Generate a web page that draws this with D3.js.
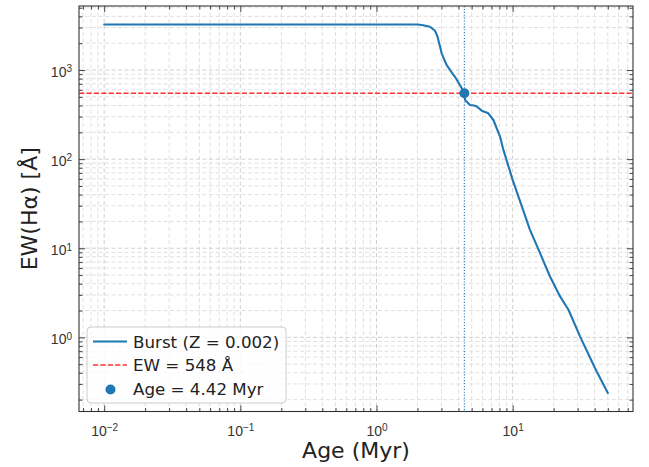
<!DOCTYPE html>
<html>
<head>
<meta charset="utf-8">
<script src="https://cdn.jsdelivr.net/npm/d3@7"></script>
<style>
  body { margin: 0; background: #fff; }
  svg { display: block; font-family: "DejaVu Sans", sans-serif; }
</style>
</head>
<body>
<svg id="chart" width="649" height="467"></svg>
<script>
// burst model track (Myr, Angstrom)
const ageMyr = [0.01, 2.0, 2.2, 2.47, 2.69, 2.8, 2.89, 3.01, 3.19, 3.3, 3.47, 3.77, 4.1, 4.42,
  4.47, 4.86, 5.2, 5.45, 5.93, 6.63, 7.22, 8.08, 8.55, 10, 11.7, 13.4, 15.9, 18.8, 22.3, 25.7, 31.3, 40.3, 50]
const ewBurst = [3250, 3250, 3180, 3060, 2760, 2400, 1990, 1540, 1240, 1120, 1000, 840, 680, 548,
  461, 405, 400, 390, 350, 327, 275, 179, 127, 58.5, 29.3, 16.1, 8.8, 4.82, 2.88, 2.04, 1.02, 0.45, 0.237]

const ewObserved = 548 // red dashed line
const ageFound = 4.42 // blue dotted line + dot

const xTickVals = [0.01, 0.1, 1, 10]
const xTickExp = ["−2", "−1", "0", "1"]
const yTickVals = [1, 10, 100, 1000]
const yTickExp = ["0", "1", "2", "3"]
const legendLabels = ["Burst (Z = 0.002)", "EW = 548 Å", "Age = 4.42 Myr"]

const blue = "#1f77b4"
const plot = { left: 79, right: 633, top: 6, bottom: 411.5 }
const svg = d3.select("#chart")

// log domain with matplotlib style 5% margins (in log space)
function logDomain(vals) {
  const lo = Math.log10(d3.min(vals)), hi = Math.log10(d3.max(vals))
  const m = (hi - lo) * 0.05
  return [Math.pow(10, lo - m), Math.pow(10, hi + m)]
}

const x = d3.scaleLog().domain(logDomain(ageMyr)).range([plot.left, plot.right])
const y = d3.scaleLog().domain(logDomain(ewBurst)).range([plot.bottom, plot.top])

// minor tick values 2..9 x 10^n inside the domain
function minorVals(scale) {
  const [a, b] = scale.domain()
  const out = []
  for (let e = Math.floor(Math.log10(a)); e <= Math.ceil(Math.log10(b)); e++) {
    for (let k = 2; k < 10; k++) {
      const v = k * Math.pow(10, e)
      if (v >= a && v <= b) out.push(v)
    }
  }
  return out
}
const xMinor = minorVals(x)
const yMinor = minorVals(y)
const xMajor = xTickVals.filter(v => v >= x.domain()[0] && v <= x.domain()[1])
const yMajor = yTickVals.filter(v => v >= y.domain()[0] && v <= y.domain()[1])

svg.append("defs").append("clipPath").attr("id", "clip")
  .append("rect")
  .attr("x", plot.left).attr("y", plot.top)
  .attr("width", plot.right - plot.left).attr("height", plot.bottom - plot.top)

// grid (minor first, then major)
const grid = svg.append("g")
function vGrid(vals, color) {
  grid.selectAll(null).data(vals).enter().append("line")
    .attr("x1", d => x(d)).attr("x2", d => x(d))
    .attr("y1", plot.top).attr("y2", plot.bottom)
    .style("stroke", color).style("stroke-width", 0.9).style("stroke-dasharray", "4,2.5")
}
function hGrid(vals, color) {
  grid.selectAll(null).data(vals).enter().append("line")
    .attr("y1", d => y(d)).attr("y2", d => y(d))
    .attr("x1", plot.left).attr("x2", plot.right)
    .style("stroke", color).style("stroke-width", 0.9).style("stroke-dasharray", "4,2.5")
}
vGrid(xMinor, "#dcdcdc")
hGrid(yMinor, "#dcdcdc")
vGrid(xMajor, "#cbcbcb")
hGrid(yMajor, "#cbcbcb")

const layer = svg.append("g").attr("clip-path", "url(#clip)")

// model curve
const lineGen = d3.line().x(d => x(d[0])).y(d => y(d[1]))
layer.append("path")
  .datum(d3.zip(ageMyr, ewBurst))
  .attr("d", lineGen)
  .style("fill", "none").style("stroke", blue).style("stroke-width", 2.1)
  .style("stroke-linejoin", "round").style("stroke-linecap", "round")

// observed EW
layer.append("line")
  .attr("x1", plot.left).attr("x2", plot.right)
  .attr("y1", y(ewObserved)).attr("y2", y(ewObserved))
  .style("stroke", "#ff0000").style("stroke-opacity", 0.8)
  .style("stroke-width", 1.4).style("stroke-dasharray", "5.2,2.2")

// inferred age
layer.append("line")
  .attr("x1", x(ageFound)).attr("x2", x(ageFound))
  .attr("y1", plot.top).attr("y2", plot.bottom)
  .style("stroke", blue).style("stroke-width", 1.1).style("stroke-dasharray", "1.1,1.8")

layer.append("circle")
  .attr("cx", x(ageFound)).attr("cy", y(ewObserved)).attr("r", 5)
  .style("fill", blue)

// axes: ticks inward on all four sides
function styleAxis(g) {
  g.select(".domain").remove()
  g.selectAll(".tick line").style("stroke", "#333").style("stroke-width", 0.9)
}
function supLabels(g, exps, anchor) {
  g.selectAll(".tick text").each(function (d, i) {
    const t = d3.select(this).text(null)
      .style("font-size", "14px").style("fill", "#333")
      .attr("text-anchor", anchor)
    t.append("tspan").text("10")
    t.append("tspan").text(exps[i]).attr("dy", "-0.45em").style("font-size", "10px")
  })
}

const axB = svg.append("g").attr("transform", `translate(0,${plot.bottom})`)
  .call(d3.axisBottom(x).tickValues(xMajor).tickSize(-6).tickPadding(10).tickFormat(() => "x"))
styleAxis(axB)
supLabels(axB, xTickExp.slice(xTickVals.indexOf(xMajor[0])), "middle")
axB.selectAll(".tick text").attr("dy", "1.0em")
svg.append("g").attr("transform", `translate(0,${plot.bottom})`)
  .call(d3.axisBottom(x).tickValues(xMinor).tickSize(-3.5).tickFormat(""))
  .call(styleAxis)

const axT = svg.append("g").attr("transform", `translate(0,${plot.top})`)
  .call(d3.axisTop(x).tickValues(xMajor).tickSize(-6).tickFormat(""))
styleAxis(axT)
svg.append("g").attr("transform", `translate(0,${plot.top})`)
  .call(d3.axisTop(x).tickValues(xMinor).tickSize(-3.5).tickFormat(""))
  .call(styleAxis)

const axL = svg.append("g").attr("transform", `translate(${plot.left},0)`)
  .call(d3.axisLeft(y).tickValues(yMajor).tickSize(-6).tickPadding(7).tickFormat(() => "x"))
styleAxis(axL)
supLabels(axL, yTickExp.slice(yTickVals.indexOf(yMajor[0])), "end")
axL.selectAll(".tick text").attr("dy", "0.45em")
svg.append("g").attr("transform", `translate(${plot.left},0)`)
  .call(d3.axisLeft(y).tickValues(yMinor).tickSize(-3.5).tickFormat(""))
  .call(styleAxis)

svg.append("g").attr("transform", `translate(${plot.right},0)`)
  .call(d3.axisRight(y).tickValues(yMajor).tickSize(-6).tickFormat(""))
  .call(styleAxis)
svg.append("g").attr("transform", `translate(${plot.right},0)`)
  .call(d3.axisRight(y).tickValues(yMinor).tickSize(-3.5).tickFormat(""))
  .call(styleAxis)

// frame
svg.append("rect")
  .attr("x", plot.left).attr("y", plot.top)
  .attr("width", plot.right - plot.left).attr("height", plot.bottom - plot.top)
  .style("fill", "none").style("stroke", "#333").style("stroke-width", 1.1)

// axis titles
svg.append("text")
  .attr("x", (plot.left + plot.right) / 2).attr("y", 458)
  .attr("text-anchor", "middle")
  .style("font-size", "22px").style("fill", "#222")
  .text("Age (Myr)")
svg.append("text")
  .attr("transform", `translate(37,${(plot.top + plot.bottom) / 2}) rotate(-90)`)
  .attr("text-anchor", "middle")
  .style("font-size", "22px").style("fill", "#222")
  .text("EW(Hα) [Å]")

// legend
const leg = svg.append("g").attr("transform", "translate(87,327)")
leg.append("rect")
  .attr("width", 199).attr("height", 76).attr("rx", 4)
  .style("fill", "#fff").style("fill-opacity", 0.8)
  .style("stroke", "#cccccc").style("stroke-width", 1)
const rowY = [14.5, 38, 61.5]
leg.append("line").attr("x1", 6).attr("x2", 40).attr("y1", rowY[0]).attr("y2", rowY[0])
  .style("stroke", blue).style("stroke-width", 2.1)
leg.append("line").attr("x1", 6).attr("x2", 40).attr("y1", rowY[1]).attr("y2", rowY[1])
  .style("stroke", "#ff0000").style("stroke-opacity", 0.8)
  .style("stroke-width", 1.4).style("stroke-dasharray", "5.2,2.2")
leg.append("circle").attr("cx", 23.5).attr("cy", rowY[2] + 1).attr("r", 5).style("fill", blue)
leg.selectAll(null).data(legendLabels).enter().append("text")
  .attr("x", 46).attr("y", (d, i) => rowY[i] + 6)
  .style("font-size", "16.7px").style("fill", "#222")
  .text(d => d)
</script>
</body>
</html>
